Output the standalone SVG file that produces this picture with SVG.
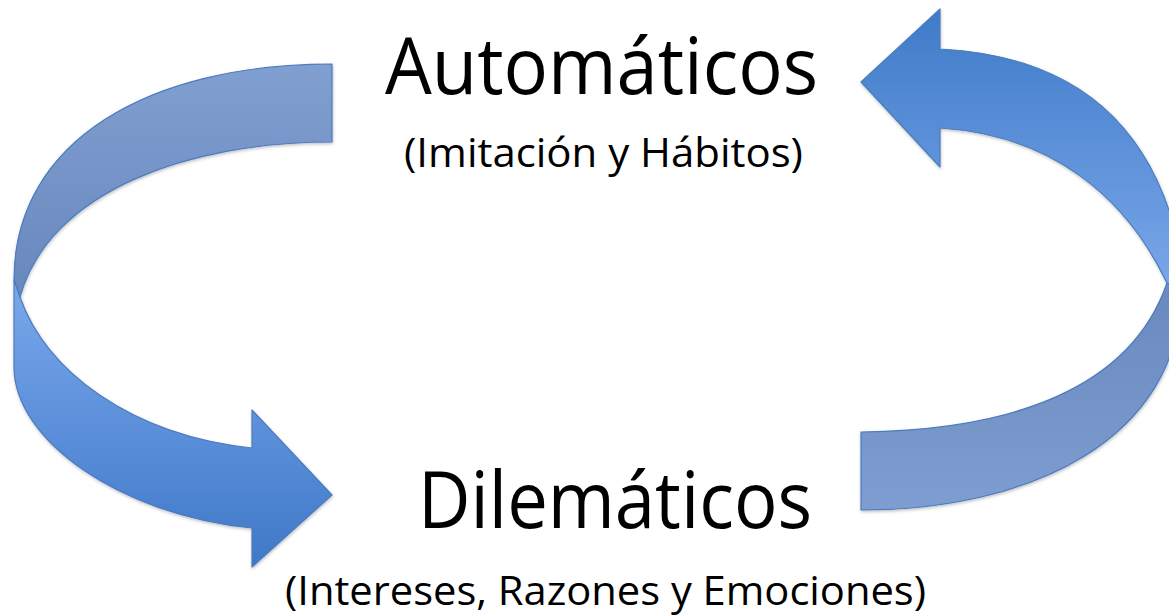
<svg xmlns="http://www.w3.org/2000/svg" width="1169" height="615" viewBox="0 0 1169 615">
<defs>
<linearGradient id="gLBack" gradientUnits="userSpaceOnUse" x1="0" y1="64" x2="0" y2="297">
<stop offset="0" stop-color="#819fd0"/>
<stop offset="1" stop-color="#6887bd"/>
</linearGradient>
<linearGradient id="gLFront" gradientUnits="userSpaceOnUse" x1="0" y1="280" x2="0" y2="567">
<stop offset="0" stop-color="#7aa8ec"/>
<stop offset="1" stop-color="#3f78c8"/>
</linearGradient>
<linearGradient id="gRFront" gradientUnits="userSpaceOnUse" x1="0" y1="9" x2="0" y2="285">
<stop offset="0" stop-color="#3f7bc8"/>
<stop offset="1" stop-color="#79a6e9"/>
</linearGradient>
<linearGradient id="gRBack" gradientUnits="userSpaceOnUse" x1="0" y1="283" x2="0" y2="510">
<stop offset="0" stop-color="#6989bf"/>
<stop offset="1" stop-color="#7e9dd0"/>
</linearGradient>
<filter id="shadow" x="-10%" y="-10%" width="120%" height="120%">
<feDropShadow dx="0.5" dy="1.5" stdDeviation="1.5" flood-color="#000" flood-opacity="0.25"/>
</filter>
</defs>
<style>
.edge{stroke:#4a7cbf;stroke-width:1.2;stroke-linejoin:round}
.title{font-family:"Open Sans","Liberation Sans",sans-serif;font-size:78px;fill:#000}
.sub{font-family:"Open Sans","Liberation Sans",sans-serif;font-size:40px;fill:#000}
</style>
<rect width="1169" height="615" fill="#fff"/>
<g id="connectors" filter="url(#shadow)">
<g id="arrow-left">
<path class="edge" fill="url(#gLBack)" d="M332,64 L332,142 C190,142 50,190 20,297 L14,280 C14,140 150,64 332,64 Z"/>
<path class="edge" fill="url(#gLFront)" d="M14,280 L14,367 C14,440 120,515 252,528 L252,567 L332,495 L252,410 L252,448 C130,435 45,370 20,297 Z"/>
</g>
<g id="arrow-right">
<path class="edge" fill="url(#gRBack)" d="M861,432 C1010,430 1130,390 1167,283 L1182,290 C1180,440 1030,510 861,510 Z"/>
<path class="edge" fill="url(#gRFront)" d="M940,49 C1060,55 1150,110 1180,250 L1182,290 L1167,283 C1125,195 1050,135 940,128 L940,167 L861,82 L940,9 Z"/>
</g>
</g>
<g id="automaticos">
<text class="title" x="385" y="94" textLength="433" lengthAdjust="spacingAndGlyphs">Automáticos</text>
<text class="sub" x="404" y="167" textLength="399" lengthAdjust="spacingAndGlyphs">(Imitación y Hábitos)</text>
</g>
<g id="dilematicos">
<text class="title" x="418" y="528" textLength="394" lengthAdjust="spacingAndGlyphs">Dilemáticos</text>
<text class="sub" x="285" y="605" textLength="641" lengthAdjust="spacingAndGlyphs">(Intereses, Razones y Emociones)</text>
</g>
</svg>
